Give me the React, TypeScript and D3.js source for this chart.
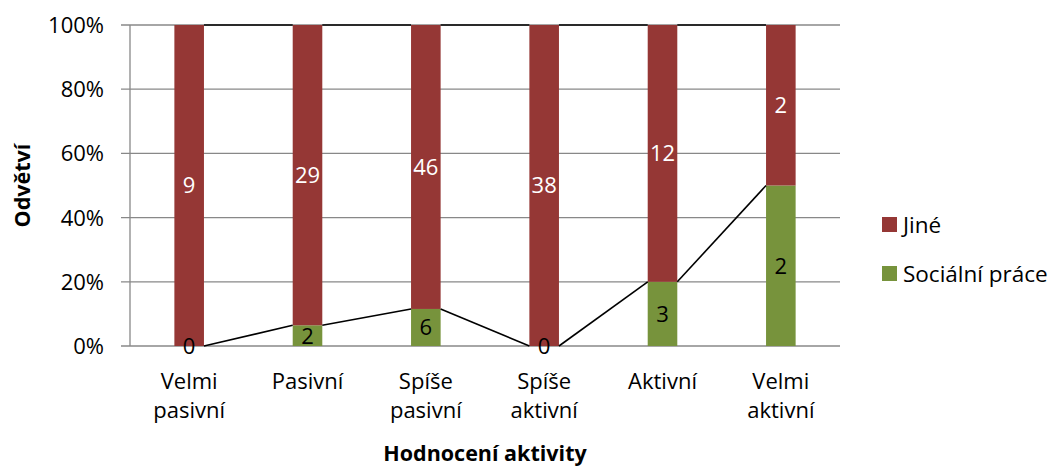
import React from "react";
import * as d3 from "d3";

const categories: string[][] = [
  ["Velmi", "pasivní"],
  ["Pasivní"],
  ["Spíše", "pasivní"],
  ["Spíše", "aktivní"],
  ["Aktivní"],
  ["Velmi", "aktivní"],
];
const socialniPrace = [0, 2, 6, 0, 3, 2];
const jine = [9, 29, 46, 38, 12, 2];
const yTicks = [0, 0.2, 0.4, 0.6, 0.8, 1];
const seriesNames = ["Sociální práce", "Jiné"];
const seriesColors = ["#77933C", "#953735"];
const labelColors = ["#000000", "#ffffff"];

const W = 1056;
const H = 466;
const FONT = "'Open Sans', 'Noto Sans', sans-serif";

export default function App() {
  const left = 130, right = 840, top = 25, bottom = 346;
  const x = d3.scaleBand<number>().domain(d3.range(categories.length)).range([left, right]).paddingInner(0.75).paddingOuter(0.375);
  const y = d3.scaleLinear().domain([0, 1]).range([bottom, top]);
  const rows = categories.map((_, i) => ({ s: socialniPrace[i], j: jine[i] }));
  const stack = d3.stack<{ s: number; j: number }>().keys(["s", "j"]).offset(d3.stackOffsetExpand);
  const series = stack(rows);
  const bw = x.bandwidth();
  const fmt = d3.format(".0%");

  const seriesLines: string[] = [];
  series.forEach((ser) => {
    for (let i = 0; i < ser.length - 1; i++) {
      const x1 = (x(i) as number) + bw;
      const x2 = x(i + 1) as number;
      seriesLines.push(`M${x1},${y(ser[i][1])}L${x2},${y(ser[i + 1][1])}`);
    }
  });

  return (
    <svg width={W} height={H} style={{ position: "absolute", left: 0, top: 0, background: "#fff" }} fontFamily={FONT}>
      {yTicks.map((t) => (
        <g key={t}>
          <line x1={121} x2={right} y1={y(t)} y2={y(t)} stroke="#888888" strokeWidth={1.3} />
          <text x={104} y={y(t)} dy="0.36em" textAnchor="end" fontSize={22} fill="#000">
            {fmt(t)}
          </text>
        </g>
      ))}
      <line x1={left} x2={left} y1={top} y2={bottom} stroke="#888888" strokeWidth={1.3} />
      {series.map((ser, si) =>
        ser.map((d, i) => (
          <rect
            key={`${si}-${i}`}
            x={x(i)}
            width={bw}
            y={y(d[1])}
            height={y(d[0]) - y(d[1])}
            fill={seriesColors[si]}
          />
        ))
      )}
      {seriesLines.map((p, k) => (
        <path key={k} d={p} stroke="#000" strokeWidth={1.6} fill="none" />
      ))}
      {series.map((ser, si) =>
        ser.map((d, i) => {
          const v = si === 0 ? socialniPrace[i] : jine[i];
          return (
            <text
              key={`l${si}-${i}`}
              x={(x(i) as number) + bw / 2}
              y={(y(d[0]) + y(d[1])) / 2}
              dy="0.36em"
              textAnchor="middle"
              fontSize={22}
              fill={labelColors[si]}
            >
              {v}
            </text>
          );
        })
      )}
      {categories.map((lines, i) => (
        <text key={`c${i}`} x={(x(i) as number) + bw / 2} y={389} textAnchor="middle" fontSize={22} fill="#000">
          {lines.map((ln, k) => (
            <tspan key={k} x={(x(i) as number) + bw / 2} dy={k === 0 ? 0 : 29}>
              {ln}
            </tspan>
          ))}
        </text>
      ))}
      <text x={(left + right) / 2} y={461} textAnchor="middle" fontSize={21.5} fontWeight="bold" fill="#000">
        Hodnocení aktivity
      </text>
      <text transform={`translate(30,${(top + bottom) / 2}) rotate(-90)`} textAnchor="middle" fontSize={21.5} fontWeight="bold" fill="#000">
        Odvětví
      </text>
      {[1, 0].map((si, k) => (
        <g key={`lg${si}`} transform={`translate(882,${224.5 + k * 49})`}>
          <rect x={0} y={-7.5} width={15} height={15} fill={seriesColors[si]} />
          <text x={21} y={0} dy="0.36em" fontSize={22.5} fill="#000">
            {seriesNames[si]}
          </text>
        </g>
      ))}
    </svg>
  );
}
